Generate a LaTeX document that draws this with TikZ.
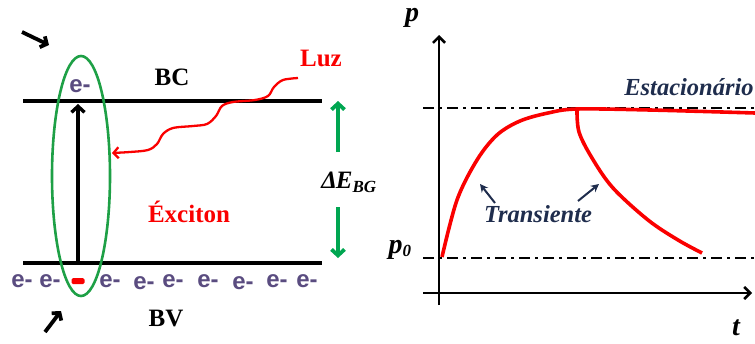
\documentclass[tikz,border=0pt]{standalone}
\usepackage{fontspec}
\setmainfont{Liberation Serif}
\newfontfamily\esans{Liberation Sans}
\usetikzlibrary{arrows.meta,shapes.geometric}
\definecolor{egray}{RGB}{90,76,128}
\definecolor{bgreen}{RGB}{0,166,81}
\definecolor{egreen}{RGB}{30,160,70}
\definecolor{navy}{RGB}{31,45,77}
\definecolor{lred}{RGB}{250,0,0}
\tikzset{
  lbl/.style={font=\fontsize{25}{28}\selectfont\bfseries},
  ilbl/.style={font=\fontsize{24.5}{28}\selectfont\bfseries\itshape, text=navy, inner sep=0pt, anchor=base},
  axl/.style={font=\fontsize{28}{30}\selectfont\bfseries\itshape, inner sep=0pt, anchor=base},
  elec/.style={font=\esans\fontsize{24}{26}\selectfont\bfseries, text=egray, inner sep=0pt},
  band/.style={line width=3.4pt},
  barb/.style={-{Straight Barb[length=6pt,width=13pt]}},
  ddot/.style={line width=2pt, dash pattern=on 11pt off 5pt on 3pt off 5pt},
  curve/.style={lred, line width=3.6pt}
}
\begin{document}
\begin{tikzpicture}[x=1pt,y=-1pt]
\useasboundingbox (0,0) rectangle (755,343);
% ---- left diagram ----
\coordinate (bcL) at (23,101); \coordinate (bcR) at (322,101);
\coordinate (bvL) at (23,263); \coordinate (bvR) at (322,263);
\draw[band] (bcL) -- (bcR);
\draw[band] (bvL) -- (bvR);
\node[lbl] (bc) at (172,77) {BC};
\node[lbl] (bv) at (166,318) {BV};
\node[lbl, text=lred] (luz) at (321,58) {Luz};
\node[lbl, text=lred] (exc) at (189,212) {Éxciton};
\node[font=\fontsize{25}{28}\selectfont\bfseries\itshape] (dE) at (349,182) {Δ\kern-1pt E\textsubscript{\fontsize{17}{18}\selectfont BG}};
\node[elec] (etop) at (80,86) {e-};
\coordinate (vb) at (78,263); \coordinate (vt) at (78,104);
\draw[line width=3.4pt, barb] (vb) -- (vt);
\node[draw=egreen, line width=2.6pt, ellipse, minimum width=58pt, minimum height=240pt, inner sep=0pt] (ell) at (81,176) {};
% electrons
\foreach \x/\y [count=\i] in {22/281,50/281,110/281,144/283,173/281,208/281,243/283,277/281,307/281}
  \node[elec] (e\i) at (\x,\y) {e-};
\node[fill=lred, rounded corners=1.5pt, minimum width=13pt, minimum height=6pt, inner sep=0pt] (hole) at (78,281) {};
% light
\coordinate (ls) at (298,78);
\coordinate (lt) at (112,153);
\draw[lred, line width=2.3pt, -{Straight Barb[length=5pt,width=11pt]}] plot[smooth, tension=0.55] coordinates {(ls) (283,80) (274,87) (268,96) (255,100) (233,102) (222,106) (216,116) (207,124) (193,126) (173,128) (163,134) (157,144) (148,150) (130,152) (lt)};
% green gap arrows
\coordinate (gu1) at (338,152); \coordinate (gu2) at (338,101);
\coordinate (gd1) at (338,207); \coordinate (gd2) at (338,258);
\draw[bgreen, line width=3.8pt, barb] (gu1) -- (gu2);
\draw[bgreen, line width=3.8pt, barb] (gd1) -- (gd2);
% corner arrows
\coordinate (a1s) at (22,32); \coordinate (a1e) at (49,45);
\coordinate (a2s) at (45,332); \coordinate (a2e) at (61,311);
\draw[line width=3.8pt, -{Straight Barb[length=5pt,width=12pt]}] (a1s) -- (a1e);
\draw[line width=3.8pt, -{Straight Barb[length=5pt,width=12pt]}] (a2s) -- (a2e);
% ---- right diagram ----
\coordinate (yb) at (439,305); \coordinate (yt) at (439,35);
\coordinate (xl) at (423,293); \coordinate (xr) at (752,293);
\draw[line width=2.6pt, -{Straight Barb[length=6pt,width=12pt]}] (yb) -- (yt);
\draw[line width=2.6pt, -{Straight Barb[length=6pt,width=12pt]}] (xl) -- (xr);
\coordinate (su) at (423,108); \coordinate (eu) at (755,108);
\coordinate (sd) at (423,258); \coordinate (ed) at (755,258);
\draw[ddot] (su) -- (eu);
\draw[ddot] (sd) -- (ed);
\node[axl] (p) at (412,21) {p};
\node[axl] (p0) at (400,253) {p\textsubscript{\fontsize{17}{18}\selectfont 0}};
\node[axl] (t) at (736,335) {t};
\node[ilbl] (est) at (689,95) {Estacionário};
\node[ilbl] (tr) at (538,222) {Transiente};
\coordinate (c0) at (442,257);
\coordinate (cm) at (577,109);
\coordinate (ce) at (755,113);
\coordinate (cd) at (702,253);
\draw[curve] plot[smooth, tension=0.55] coordinates {(c0) (457,200) (477,160) (497,135) (520,121) (548,113) (cm) (650,110) (ce)};
\draw[curve] plot[smooth, tension=0.55] coordinates {(cm) (579,132) (592,158) (613,188) (648,220) (678,240) (cd)};
\coordinate (n1s) at (495,203); \coordinate (n1e) at (480,184);
\coordinate (n2s) at (578,201); \coordinate (n2e) at (599,184);
\draw[navy, line width=2pt, -{Stealth[length=8pt,width=8pt]}] (n1s) -- (n1e);
\draw[navy, line width=2pt, -{Stealth[length=8pt,width=8pt]}] (n2s) -- (n2e);
\end{tikzpicture}
\end{document}
